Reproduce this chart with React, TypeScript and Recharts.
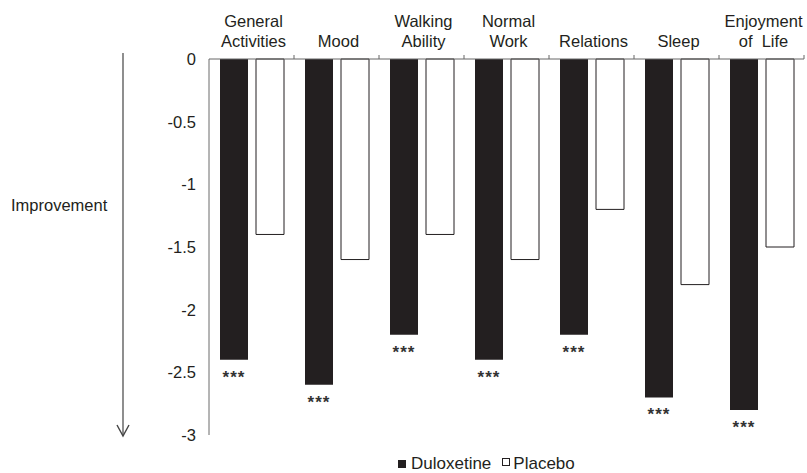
import React from 'react'
import { BarChart, Bar, XAxis, YAxis, Legend, LabelList } from 'recharts'

const categories = [
    'General\nActivities',
    'Mood',
    'Walking\nAbility',
    'Normal\nWork',
    'Relations',
    'Sleep',
    'Enjoyment\nof  Life',
]
const duloxetine = [-2.4, -2.6, -2.2, -2.4, -2.2, -2.7, -2.8]
const placebo = [-1.4, -1.6, -1.4, -1.6, -1.2, -1.8, -1.5]
const significance = ['***', '***', '***', '***', '***', '***', '***']
const yTicks = [0, -0.5, -1, -1.5, -2, -2.5, -3]

const W = 807
const H = 473
const MARGIN = { top: 9, right: 3, bottom: 38, left: 149 }
const Y_AXIS_W = 60
const FONT = '"Liberation Sans", Arial, sans-serif'
const INK = '#231f20'

const data = categories.map((c, i) => ({
    name: c,
    dulox: duloxetine[i],
    placebo: placebo[i],
    sig: significance[i],
}))

const halfBand = (W - MARGIN.left - MARGIN.right - Y_AXIS_W) / categories.length / 2

function CategoryTick(props: any) {
    const { x, y, payload } = props
    const lines = String(payload.value).split('\n')
    return (
        <g>
            <line x1={x + halfBand} y1={y} x2={x + halfBand} y2={y - 4} stroke="#666" />
            <text textAnchor="middle" fontSize={16.5} fill={INK} fontFamily={FONT} style={{ whiteSpace: 'pre' }}>
                {lines.map((l, i) => (
                    <tspan key={i} x={x + 2} y={y - 12 - (lines.length - 1 - i) * 20}>
                        {l}
                    </tspan>
                ))}
            </text>
        </g>
    )
}

function SigLabel(props: any) {
    const { x, y, width, height, value } = props
    const bottom = Math.max(y, y + height)
    return (
        <text
            x={x + width / 2}
            y={bottom + 23}
            textAnchor="middle"
            fontSize={17}
            fontWeight="bold"
            letterSpacing={1}
            fill="#333"
            fontFamily={FONT}
        >
            {value}
        </text>
    )
}

function LegendContent() {
    return (
        <div
            style={{
                display: 'flex',
                alignItems: 'center',
                fontFamily: FONT,
                fontSize: 17,
                lineHeight: '17px',
                height: 17,
                color: INK,
                whiteSpace: 'nowrap',
            }}
        >
            <span style={{ width: 8, height: 8, background: INK, display: 'inline-block', marginRight: 5 }} />
            <span style={{ marginRight: 11 }}>Duloxetine</span>
            <span style={{ width: 6, height: 6, border: `1px solid ${INK}`, display: 'inline-block', marginRight: 3, marginTop: -3 }} />
            <span>Placebo</span>
        </div>
    )
}

export default function App() {
    return (
        <div style={{ position: 'absolute', left: 0, top: 0, width: W, height: H, background: '#fff', fontFamily: FONT }}>
            <BarChart width={W} height={H} data={data} margin={MARGIN} barSize={28} barGap={8}>
                <XAxis
                    dataKey="name"
                    orientation="top"
                    height={50}
                    interval={0}
                    tickSize={0}
                    tickMargin={0}
                    tick={<CategoryTick />}
                    stroke="#666"
                />
                <YAxis
                    type="number"
                    domain={[-3, 0]}
                    ticks={yTicks}
                    width={Y_AXIS_W}
                    tickSize={0}
                    tickMargin={13}
                    tickLine={false}
                    stroke="#6b6b6b"
                    tick={{ fill: INK, fontSize: 16.5, fontFamily: FONT }}
                />
                <Legend
                    layout="vertical"
                    verticalAlign="middle"
                    align="center"
                    content={<LegendContent />}
                    wrapperStyle={{ left: 398, top: 455, width: 240, height: 17 }}
                />
                <Bar dataKey="dulox" name="Duloxetine" fill={INK} isAnimationActive={false}>
                    <LabelList dataKey="sig" content={<SigLabel />} />
                </Bar>
                <Bar dataKey="placebo" name="Placebo" fill="#fff" stroke={INK} strokeWidth={1} isAnimationActive={false} />
            </BarChart>
            <svg width={140} height={H} style={{ position: 'absolute', left: 0, top: 0, pointerEvents: 'none' }}>
                <text x={11} y={211} fontSize={16.5} fill={INK} fontFamily={FONT}>
                    Improvement
                </text>
                <line x1={123} y1={53} x2={123} y2={435} stroke="#444" strokeWidth={1.2} />
                <polyline points="117,425 123,436 129,425" fill="none" stroke="#444" strokeWidth={1.4} />
            </svg>
        </div>
    )
}
